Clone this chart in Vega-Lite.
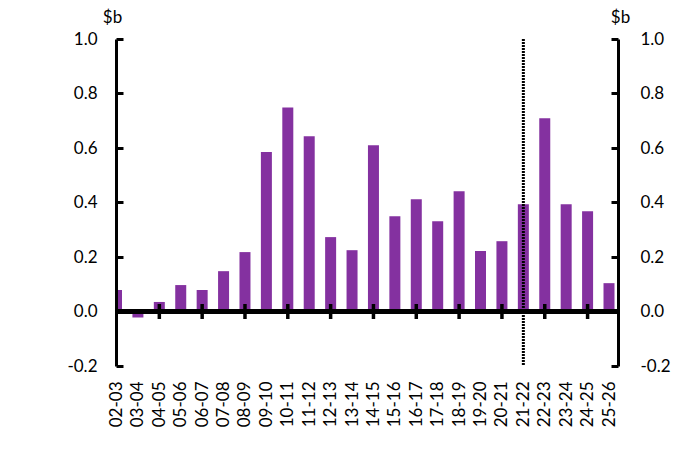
{
  "$schema": "https://vega.github.io/schema/vega-lite/v6.json",
  "width": 502,
  "height": 327,
  "autosize": {"type": "none"},
  "padding": {"left": 116, "top": 39, "right": 81, "bottom": 84},
  "config": {
    "view": {"stroke": null},
    "font": "Lato",
    "axis": {
      "labelFont": "Lato",
      "labelFontSize": 17,
      "labelColor": "black",
      "titleFont": "Lato",
      "titleFontSize": 17,
      "titleFontWeight": "normal",
      "titleColor": "black",
      "grid": false
    }
  },
  "data": {
    "values": [
      {"year": "02-03", "value": 0.079},
      {"year": "03-04", "value": -0.022},
      {"year": "04-05", "value": 0.035},
      {"year": "05-06", "value": 0.097},
      {"year": "06-07", "value": 0.079},
      {"year": "07-08", "value": 0.148},
      {"year": "08-09", "value": 0.218},
      {"year": "09-10", "value": 0.585},
      {"year": "10-11", "value": 0.749},
      {"year": "11-12", "value": 0.643},
      {"year": "12-13", "value": 0.273},
      {"year": "13-14", "value": 0.225},
      {"year": "14-15", "value": 0.61},
      {"year": "15-16", "value": 0.35},
      {"year": "16-17", "value": 0.412},
      {"year": "17-18", "value": 0.331},
      {"year": "18-19", "value": 0.441},
      {"year": "19-20", "value": 0.222},
      {"year": "20-21", "value": 0.258},
      {"year": "21-22", "value": 0.394},
      {"year": "22-23", "value": 0.709},
      {"year": "23-24", "value": 0.394},
      {"year": "24-25", "value": 0.368},
      {"year": "25-26", "value": 0.104}
    ]
  },
  "layer": [
    {
      "mark": {"type": "bar", "color": "#8431A0", "width": 11, "clip": true},
      "encoding": {
        "x": {
          "field": "year",
          "type": "ordinal",
          "sort": null,
          "scale": {
            "type": "point",
            "padding": 0,
            "range": [0.5, 493],
            "domain": ["02-03","03-04","04-05","05-06","06-07","07-08","08-09","09-10","10-11","11-12","12-13","13-14","14-15","15-16","16-17","17-18","18-19","19-20","20-21","21-22","22-23","23-24","24-25","25-26"]
          },
          "axis": {"domain": false, "ticks": false, "tickSize": 0, "labelAngle": -90, "labelPadding": 15, "title": null}
        },
        "y": {
          "field": "value",
          "type": "quantitative",
          "scale": {"domain": [-0.2, 1.0], "nice": false, "zero": false},
          "axis": {
            "orient": "left",
            "values": [-0.2, 0, 0.2, 0.4, 0.6, 0.8, 1.0],
            "labelExpr": "replace(format(datum.value, '.1f'), '\u2212', '-')",
            "domainColor": "black",
            "domainWidth": 3,
            "tickColor": "black",
            "tickWidth": 3,
            "tickSize": -7,
            "labelPadding": 26,
            "title": "$b",
            "titleAngle": 0,
            "titleX": -4,
            "titleY": -17,
            "titleAlign": "center",
            "titleBaseline": "alphabetic",
            "zindex": 1
          }
        }
      }
    },
    {
      "mark": {"type": "rule", "strokeWidth": 4, "color": "black"},
      "encoding": {"y": {"datum": 0, "type": "quantitative", "axis": null}}
    },
    {
      "transform": [{"filter": {"field": "year", "oneOf": ["04-05","06-07","08-09","10-11","12-13","14-15","16-17","18-19","20-21","22-23","24-25"]}}],
      "mark": {"type": "rule", "strokeWidth": 3.5, "color": "black"},
      "encoding": {
        "x": {"field": "year", "type": "ordinal", "sort": null},
        "y": {"datum": -0.0275, "type": "quantitative", "axis": null},
        "y2": {"datum": 0.0275}
      }
    },
    {
      "transform": [{"filter": {"field": "year", "equal": "21-22"}}],
      "mark": {"type": "rule", "strokeWidth": 3, "strokeDash": [2, 1], "color": "black"},
      "encoding": {
        "x": {"field": "year", "type": "ordinal", "sort": null},
        "y": {"datum": 1.0, "type": "quantitative", "axis": null},
        "y2": {"datum": -0.2}
      }
    },
    {
      "mark": {"type": "point", "opacity": 0},
      "encoding": {
        "x": {"field": "year", "type": "ordinal", "sort": null},
        "y": {
          "field": "value",
          "type": "quantitative",
          "axis": {
            "orient": "right",
            "values": [-0.2, 0, 0.2, 0.4, 0.6, 0.8, 1.0],
            "labelExpr": "replace(format(datum.value, '.1f'), '\u2212', '-')",
            "domainColor": "black",
            "domainWidth": 3,
            "tickColor": "black",
            "tickWidth": 3,
            "tickSize": -7,
            "labelPadding": 29,
            "title": "$b",
            "titleAngle": 0,
            "titleX": 2,
            "titleY": -17,
            "titleAlign": "center",
            "titleBaseline": "alphabetic",
            "zindex": 1
          }
        }
      }
    }
  ],
  "resolve": {"scale": {"y": "shared"}, "axis": {"y": "independent"}}
}
